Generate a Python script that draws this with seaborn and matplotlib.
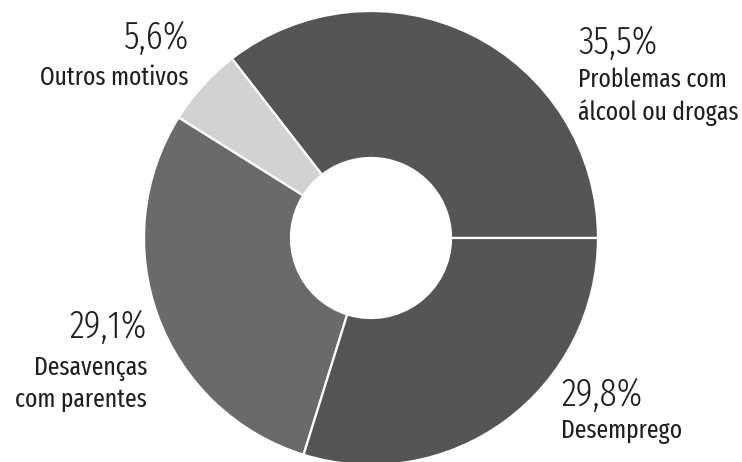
import matplotlib
matplotlib.use("Agg")
import matplotlib.pyplot as plt
import seaborn as sns

# Motivos e participação (%)
motivos = ["Problemas com\nálcool ou drogas", "Outros motivos",
           "Desavenças\ncom parentes", "Desemprego"]
valores = [35.5, 5.6, 29.1, 29.8]
rotulos = ["35,5%", "5,6%", "29,1%", "29,8%"]
cores = ["#555555", "#d2d2d2", "#6a6a6a", "#555555"]

sns.set_theme(style="white")
plt.rcParams["font.family"] = ["Fira Sans Extra Condensed", "DejaVu Sans"]

W, H = 742, 462
fig = plt.figure(figsize=(W / 100, H / 100), dpi=100)
ax = fig.add_axes([0, 0, 1, 1])

cx, cy = 371, H - 238
r_out, r_in = 227, 80
ax.pie(valores, colors=cores, startangle=0, counterclock=True,
       center=(cx, cy), radius=r_out, frame=True,
       wedgeprops=dict(width=r_out - r_in, edgecolor="white", linewidth=1.6))
ax.set_xlim(0, W)
ax.set_ylim(0, H)
ax.set_aspect("equal")
ax.axis("off")

pct_kw = dict(fontsize=27.5, color="#1e1e1e", fontweight=300)
lab_kw = dict(fontsize=18.5, color="#1e1e1e", fontweight=400)

# (x, linha de base do percentual, linhas de base do texto, alinhamento)
pos = [
    (578, 54, [87, 120], "left"),
    (189, 49, [85], "right"),
    (147, 338, [375, 407], "right"),
    (561, 406, [438], "left"),
]
for (x, yp, ys, ha), pct, txt in zip(pos, rotulos, motivos):
    ax.text(x, H - yp, pct, ha=ha, va="baseline", **pct_kw)
    for yl, ln in zip(ys, txt.split("\n")):
        ax.text(x, H - yl, ln, ha=ha, va="baseline", **lab_kw)

fig.savefig("out.png", dpi=100, facecolor="white")
